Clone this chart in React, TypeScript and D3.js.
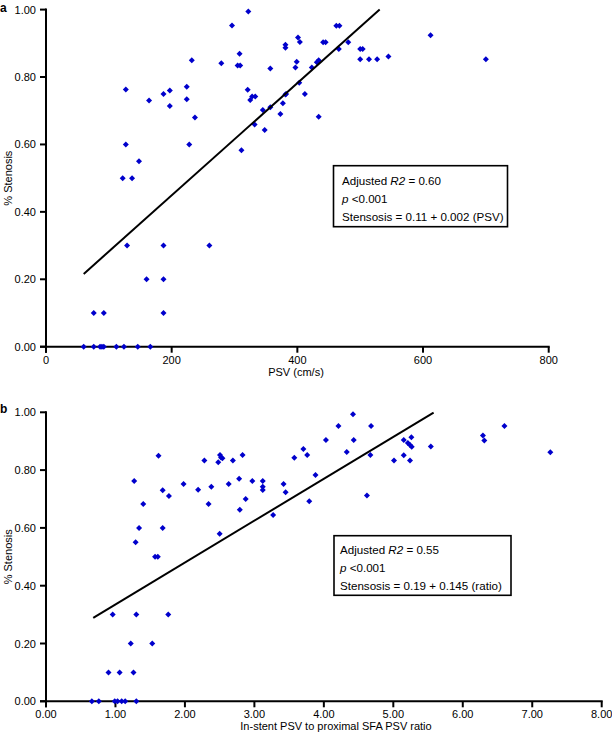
import React from "react";
import * as d3 from "d3";

// ---- Panel a data: PSV (cm/s) vs % stenosis ----
const psvA: number[] = [
  60, 76, 86, 89, 92, 112, 124, 146, 166,
  76, 92, 187,
  160, 187,
  129, 187, 260,
  122, 137, 148, 127, 228,
  127, 164, 187, 197, 197, 224, 224, 232, 237,
  279, 296, 322, 305, 309, 308, 321, 325, 328, 333, 332, 311,
  357, 345, 357, 348, 373, 377, 381, 382, 381, 381,
  397, 399, 401, 404, 403, 412, 434, 423, 431, 434,
  441, 445, 462, 467, 466, 481, 500, 504, 500, 514, 527, 545, 612, 700,
];
const stenA: number[] = [
  0, 0, 0, 0, 0, 0, 0, 0, 0,
  0.1, 0.1, 0.1,
  0.2, 0.2,
  0.3, 0.3, 0.3,
  0.5, 0.5, 0.55, 0.6, 0.6,
  0.763, 0.73, 0.75, 0.76, 0.714, 0.771, 0.734, 0.85, 0.68,
  0.841, 0.953, 0.994, 0.834, 0.834, 0.869, 0.762, 0.732, 0.742, 0.742, 0.659, 0.583,
  0.825, 0.702, 0.71, 0.643, 0.69, 0.722, 0.748, 0.75, 0.896, 0.887,
  0.828, 0.845, 0.917, 0.904, 0.783, 0.75, 0.682, 0.828, 0.844, 0.85,
  0.903, 0.903, 0.952, 0.952, 0.883, 0.903, 0.883, 0.883, 0.853, 0.853, 0.853, 0.861, 0.924, 0.853,
];
const xTicksA: number[] = [0, 200, 400, 600, 800];
const fitA = { intercept: 0.116, slope: 0.001665, from: 60, to: 531 };
const statsA: string[] = ["0.60", "<0.001", "Stensosis = 0.11 + 0.002 (PSV)"];

// ---- Panel b data: ratio vs % stenosis ----
const ratioB: number[] = [
  0.66, 0.76, 0.99, 1.03, 1.09, 1.14, 1.3,
  0.9, 1.06, 1.26,
  1.22, 1.53,
  0.96, 1.3, 1.76,
  1.57, 1.61, 1.29, 2.5,
  1.27, 1.62, 1.4, 1.34, 1.68, 1.68, 1.77, 1.98, 2.19, 2.28, 2.34, 2.38,
  2.48, 2.505, 2.52, 2.54, 2.63, 2.69, 2.78, 2.83, 2.79, 2.875, 2.97, 3.12, 3.12, 3.12,
  3.27, 3.42, 3.45, 3.575, 3.705, 3.76, 3.79, 3.88, 4.03, 4.21, 4.42, 4.33, 4.43,
  4.68, 4.67, 4.62, 5.01, 5.15, 5.26, 5.21, 5.24, 5.265, 5.15, 5.24, 5.54,
  6.29, 6.31, 6.6, 7.26,
];
const stenB: number[] = [
  0, 0, 0, 0, 0, 0, 0,
  0.1, 0.1, 0.1,
  0.2, 0.2,
  0.3, 0.3, 0.3,
  0.5, 0.5, 0.55, 0.58,
  0.762, 0.85, 0.683, 0.6, 0.6, 0.73, 0.71, 0.752, 0.732, 0.833, 0.683, 0.742,
  0.827, 0.852, 0.844, 0.841, 0.752, 0.833, 0.77, 0.852, 0.663, 0.7, 0.762, 0.762, 0.742, 0.731,
  0.645, 0.752, 0.723, 0.843, 0.873, 0.852, 0.692, 0.783, 0.904, 0.953, 0.993, 0.863, 0.904,
  0.953, 0.852, 0.712, 0.833, 0.904, 0.914, 0.894, 0.887, 0.881, 0.851, 0.833, 0.882,
  0.92, 0.902, 0.953, 0.862,
];
const xTicksB: number[] = [0, 1, 2, 3, 4, 5, 6, 7, 8];
const fitB = { intercept: 0.19, slope: 0.145, from: 0.68, to: 5.58 };
const statsB: string[] = ["0.55", "<0.001", "Stensosis = 0.19 + 0.145 (ratio)"];

const yTicks: number[] = [0, 0.2, 0.4, 0.6, 0.8, 1.0];

const FONT = "'Liberation Sans', Arial, Helvetica, sans-serif";
const BLUE = "#0000CC";

type PanelProps = {
  label: string;
  xs: number[];
  ys: number[];
  xDomain: [number, number];
  xRange: [number, number];
  yRange: [number, number];
  xTicks: number[];
  xFmt: (v: number) => string;
  xTitle: string;
  xTitleX: number;
  fit: { intercept: number; slope: number; from: number; to: number };
  stats: string[];
  box: { x: number; y: number; w: number; h: number; tx: number; lines: number[] };
  labelY: number;
};

function Panel(p: PanelProps) {
  const x = d3.scaleLinear().domain(p.xDomain).range(p.xRange);
  const y = d3.scaleLinear().domain([0, 1]).range(p.yRange);
  const x0 = p.xRange[0];
  const yBase = y(0);
  const line = d3
    .line<[number, number]>()
    .x((d) => x(d[0]))
    .y((d) => y(d[1]));
  const fitPts: [number, number][] = [
    [p.fit.from, p.fit.intercept + p.fit.slope * p.fit.from],
    [p.fit.to, p.fit.intercept + p.fit.slope * p.fit.to],
  ];
  const marker = "M0,-3L3,0L0,3L-3,0Z";
  const yMid = (y(0) + y(1)) / 2;
  const fs = 11.6;
  return (
    <g fontFamily={FONT}>
      <text x={0} y={p.labelY} fontSize={12} fontWeight="bold" fill="#000">
        {p.label}
      </text>
      {/* y axis */}
      <line x1={x0} x2={x0} y1={y(1) - 1} y2={yBase + 6} stroke="#000" strokeWidth={2} />
      {yTicks.map((t) => (
        <g key={"y" + t}>
          <line x1={x0 - 6} x2={x0} y1={y(t)} y2={y(t)} stroke="#000" strokeWidth={2} />
          <text x={x0 - 10} y={y(t) + 4} fontSize={11} textAnchor="end" fill="#000">
            {t.toFixed(2)}
          </text>
        </g>
      ))}
      {/* x axis */}
      <line x1={x0 - 6} x2={p.xRange[1] + 1} y1={yBase} y2={yBase} stroke="#000" strokeWidth={2} />
      {p.xTicks.map((t) => (
        <g key={"x" + t}>
          <line x1={x(t)} x2={x(t)} y1={yBase} y2={yBase + 6} stroke="#000" strokeWidth={2} />
          <text x={x(t)} y={yBase + 17} fontSize={11} textAnchor="middle" fill="#000">
            {p.xFmt(t)}
          </text>
        </g>
      ))}
      <text x={p.xTitleX} y={yBase + 29} fontSize={11} textAnchor="middle" fill="#000">
        {p.xTitle}
      </text>
      <text
        transform={`translate(12,${yMid}) rotate(-90)`}
        fontSize={11}
        textAnchor="middle"
        fill="#000"
      >
        % Stenosis
      </text>
      {/* points */}
      {p.xs.map((v, i) => (
        <path key={i} d={marker} transform={`translate(${x(v)},${y(p.ys[i])})`} fill={BLUE} />
      ))}
      {/* regression line */}
      <path d={line(fitPts) || ""} fill="none" stroke="#000" strokeWidth={2} />
      {/* stats box */}
      <rect
        x={p.box.x}
        y={p.box.y}
        width={p.box.w}
        height={p.box.h}
        fill="#fff"
        stroke="#000"
        strokeWidth={1.6}
      />
      <text x={p.box.tx} y={p.box.lines[0]} fontSize={fs} fill="#000">
        Adjusted <tspan fontStyle="italic">R2</tspan> = {p.stats[0]}
      </text>
      <text x={p.box.tx} y={p.box.lines[1]} fontSize={fs} fill="#000">
        <tspan fontStyle="italic">p</tspan> {p.stats[1]}
      </text>
      <text x={p.box.tx} y={p.box.lines[2]} fontSize={fs} fill="#000">
        {p.stats[2]}
      </text>
    </g>
  );
}

export default function App() {
  return (
    <svg
      width={612}
      height={732}
      viewBox="0 0 612 732"
      style={{ position: "absolute", left: 0, top: 0, background: "#fff" }}
    >
      <rect width={612} height={732} fill="#fff" />
      <Panel
        label="a"
        xs={psvA}
        ys={stenA}
        xDomain={[0, 800]}
        xRange={[46, 548.7]}
        yRange={[346.7, 9.6]}
        xTicks={xTicksA}
        xFmt={(v) => String(v)}
        xTitle="PSV (cm/s)"
        xTitleX={296}
        fit={fitA}
        stats={statsA}
        box={{ x: 333.5, y: 165.7, w: 174, h: 61, tx: 342, lines: [185, 203, 221] }}
        labelY={11.5}
      />
      <Panel
        label="b"
        xs={ratioB}
        ys={stenB}
        xDomain={[0, 8]}
        xRange={[46, 601.7]}
        yRange={[701.3, 412.3]}
        xTicks={xTicksB}
        xFmt={(v) => v.toFixed(2)}
        xTitle="In-stent PSV to proximal SFA PSV ratio"
        xTitleX={336}
        fit={fitB}
        stats={statsB}
        box={{ x: 334, y: 535.7, w: 177, h: 59.6, tx: 340, lines: [553.5, 572, 590] }}
        labelY={413}
      />
    </svg>
  );
}
